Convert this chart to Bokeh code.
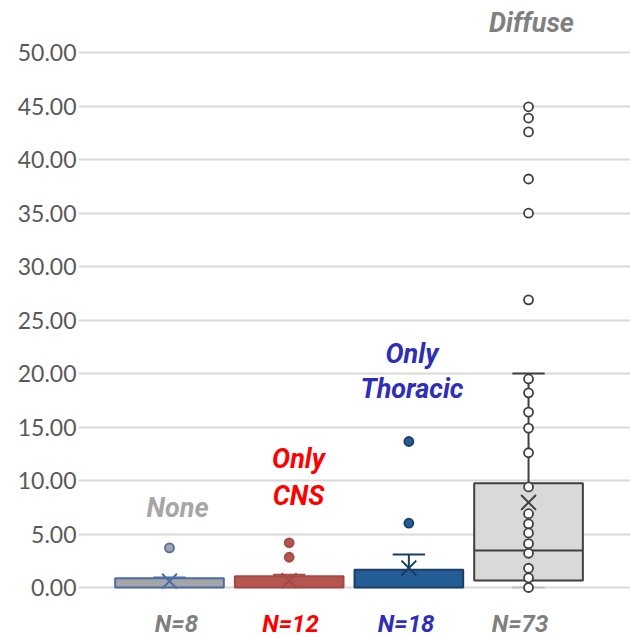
from bokeh.plotting import figure
from bokeh.models import Range1d, FixedTicker, NumeralTickFormatter
from bokeh.core.properties import value
from bokeh.embed import file_html
from bokeh.resources import INLINE

# ---------------- data ----------------
categories = ["None", "Only CNS", "Only Thoracic", "Diffuse"]
n_counts = [8, 12, 18, 73]
q1 = [0.0, 0.0, 0.0, 0.65]
median = [0.0, 0.0, 0.0, 3.45]
q3 = [0.87, 1.06, 1.65, 9.75]
whisker_low = [0.0, 0.0, 0.0, 0.0]
whisker_high = [0.93, 1.19, 3.09, 20.0]
means = [0.59, 0.65, 1.82, 7.95]
none_outliers = [3.71]
cns_outliers = [4.18, 2.83]
thoracic_outliers = [13.65, 6.01]
diffuse_outliers = [44.95, 43.9, 42.6, 38.2, 35.0, 26.9]
diffuse_inner = [19.5, 18.2, 16.4, 14.9, 12.6, 9.4, 6.9, 5.95, 5.1, 4.1, 3.2, 1.8, 0.9, 0.0]
y_ticks = [0, 5, 10, 15, 20, 25, 30, 35, 40, 45, 50]

# ---------------- styles ----------------
fills = ["#a5a5a5", "#b4554f", "#245c95", "#d9d9d9"]
edges = ["#4a6da7", "#a34a45", "#1c3d63", "#404040"]
point_fills = ["#a5a5a5", "#b4554f", "#245c95", "#ffffff"]
label_colors = ["#a6a6a6", "#ff0000", "#2e2eb8", "#808080"]
n_colors = ["#808080", "#ff0000", "#2e2eb8", "#808080"]
FONT = "Roboto"

xs = [i + 1 for i in range(len(categories))]
box_half = 0.454
cap_half = 0.135

p = figure(width=630, height=637, output_backend="svg", toolbar_location=None,
           x_range=Range1d(0.2396, 4.852), y_range=Range1d(-4.676, 54.89),
           min_border_left=78, min_border_right=0, min_border_top=0, min_border_bottom=0)
p.outline_line_color = None
p.xaxis.visible = False
p.xgrid.visible = False
p.ygrid.grid_line_color = "#d9d9d9"
p.ygrid.grid_line_width = 2
p.yaxis.ticker = FixedTicker(ticks=y_ticks)
p.yaxis.formatter = NumeralTickFormatter(format="0.00")
p.yaxis.axis_line_color = None
p.yaxis.major_tick_line_color = None
p.yaxis.minor_tick_line_color = None
p.yaxis.major_tick_out = 0
p.yaxis.major_tick_in = 0
p.yaxis.major_label_standoff = 2
p.yaxis.major_label_text_font = "Lato"
p.yaxis.major_label_text_font_size = "23px"
p.yaxis.major_label_text_color = "#595959"

# boxes
p.quad(left=[x - box_half for x in xs], right=[x + box_half for x in xs],
       bottom=q1, top=q3, fill_color=fills, line_color=edges, line_width=2)

# median lines (only where inside the box)
for x, m, lo, hi, e in zip(xs, median, q1, q3, edges):
    if lo < m < hi:
        p.segment(x0=[x - box_half], x1=[x + box_half], y0=[m], y1=[m],
                  line_color=e, line_width=2)

# whiskers and caps
for x, lo, hi, wl, wh, e in zip(xs, q1, q3, whisker_low, whisker_high, edges):
    p.segment(x0=[x], x1=[x], y0=[hi], y1=[wh], line_color=e, line_width=2)
    p.segment(x0=[x - cap_half], x1=[x + cap_half], y0=[wh], y1=[wh],
              line_color=e, line_width=2)
    if wl < lo:
        p.segment(x0=[x], x1=[x], y0=[wl], y1=[lo], line_color=e, line_width=2)
        p.segment(x0=[x - cap_half], x1=[x + cap_half], y0=[wl], y1=[wl],
                  line_color="#bfbfbf", line_width=2)

# points
groups = [none_outliers, cns_outliers, thoracic_outliers, diffuse_outliers + diffuse_inner]
for x, pts, f, e in zip(xs, groups, point_fills, edges):
    p.scatter(x=[x] * len(pts), y=pts, marker="circle", size=9,
              fill_color=f, line_color=e, line_width=1.8)

# means
p.scatter(x=xs, y=means, marker="x", size=21, line_color=edges, line_width=2)

# category labels (annotation placement in data units)
lab_x = [1.067, 2.078, 2.078, 3.026, 3.026, 4.025]
lab_y = [7.39, 12.06, 8.60, 21.88, 18.52, 52.83]
lab_t = ["None", "Only", "CNS", "Only", "Thoracic", "Diffuse"]
lab_c = [label_colors[0], label_colors[1], label_colors[1],
         label_colors[2], label_colors[2], label_colors[3]]
p.text(x=lab_x, y=lab_y, text=lab_t, text_color=lab_c, text_font=value(FONT),
       text_font_size=value("27px"), text_font_style="bold italic",
       text_align="center", text_baseline="alphabetic")

n_x = [1.058, 2.011, 2.977, 3.929]
n_y = [-3.37] * 4
p.text(x=n_x, y=n_y, text=[f"N={n}" for n in n_counts], text_color=n_colors,
       text_font=value(FONT), text_font_size=value("24px"),
       text_font_style="bold italic", text_align="center", text_baseline="alphabetic")

open("out.html", "w").write(file_html(p, INLINE))
